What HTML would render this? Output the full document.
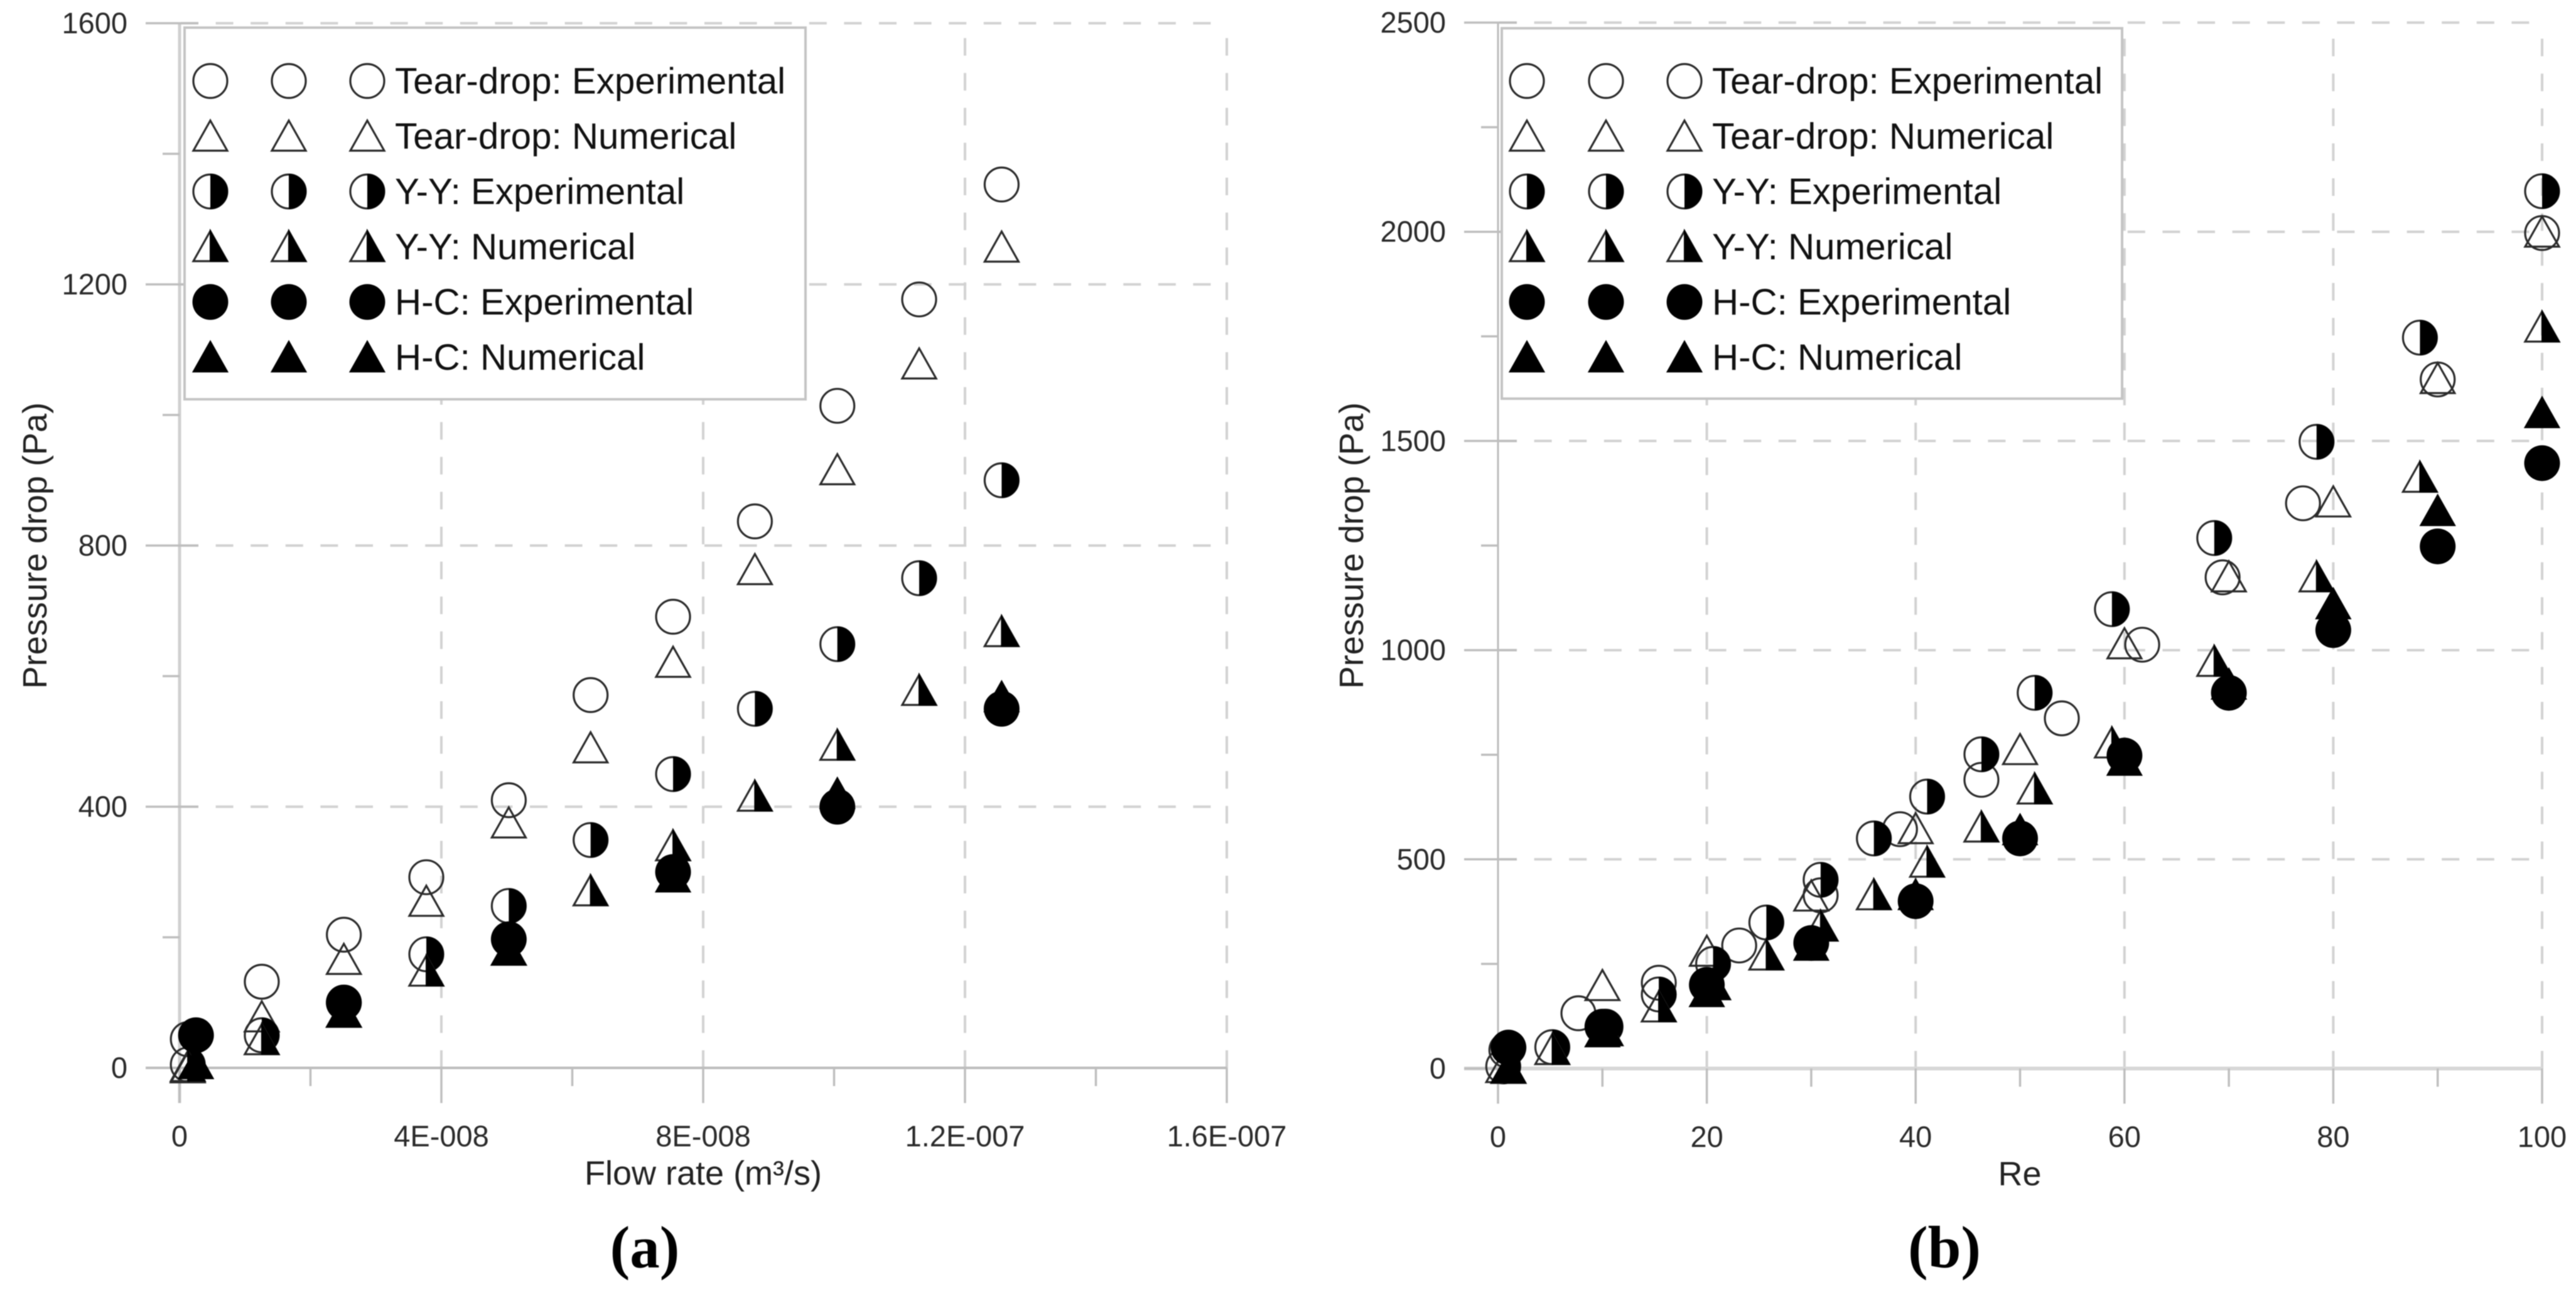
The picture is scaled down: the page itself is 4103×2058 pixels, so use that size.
<!DOCTYPE html>
<html lang="en">
<head>
<meta charset="utf-8">
<title>Pressure drop charts</title>
<style>
html,body{margin:0;padding:0;background:#fff;width:4103px;height:2058px;overflow:hidden}
svg{display:block;filter:blur(0.8px)}
text{font-family:"Liberation Sans",Arial,sans-serif}
.tick{font-size:47px;fill:#2a2a2a}
.title{font-size:54px;fill:#222}
.legend-text{font-size:58.3px;fill:#111}
.panel{font-family:"Liberation Serif","Times New Roman",serif;font-size:95px;font-weight:bold;fill:#000}
</style>
</head>
<body>
<svg id="chart" xmlns="http://www.w3.org/2000/svg" width="4103" height="2058" viewBox="0 0 4103 2058">
  <rect x="0" y="0" width="4103" height="2058" fill="#fff"/>
  <g id="panel-a"></g>
  <g id="panel-b"></g>
</svg>
<script>
// ----- Legend -----
const legendLabels = ["Tear-drop: Experimental","Tear-drop: Numerical","Y-Y: Experimental","Y-Y: Numerical","H-C: Experimental","H-C: Numerical"];
const legendKinds = ["open-circle","open-triangle","half-circle","half-triangle","solid-circle","solid-triangle"];

// ----- Chart (a): flow rate vs pressure drop -----
const aXTicks = [0,4e-8,8e-8,1.2e-7,1.6e-7];
const aXTickLabels = ["0","4E-008","8E-008","1.2E-007","1.6E-007"];
const aXMinor = [2e-8,6e-8,1e-7,1.4e-7];
const aYTicks = [0,400,800,1200,1600];
const aYTickLabels = ["0","400","800","1200","1600"];
const aYMinor = [200,600,1000,1400];

const aTearExpX = [0.126e-8,1.256e-8,2.51e-8,3.77e-8,5.03e-8,6.28e-8,7.54e-8,8.79e-8,10.05e-8,11.3e-8,12.56e-8];
const aTearExpY = [44,132,204,292,410,571,691,837,1014,1177,1353];
const aTearNumX = [0.126e-8,1.256e-8,2.51e-8,3.77e-8,5.03e-8,6.28e-8,7.54e-8,8.79e-8,10.05e-8,11.3e-8,12.56e-8];
const aTearNumY = [0,78,166,255,375,490,621,763,916,1078,1257];
const aYYExpX = [0.126e-8,1.256e-8,2.51e-8,3.77e-8,5.03e-8,6.28e-8,7.54e-8,8.79e-8,10.05e-8,11.3e-8,12.56e-8];
const aYYExpY = [5,50,100,174,248,349,450,550,649,750,900];
const aYYNumX = [0.126e-8,1.256e-8,2.51e-8,3.77e-8,5.03e-8,6.28e-8,7.54e-8,8.79e-8,10.05e-8,11.3e-8,12.56e-8];
const aYYNumY = [2,43,85,148,180,271,340,416,494,578,668];
const aHCExpX = [0.251e-8,2.51e-8,5.03e-8,7.54e-8,10.05e-8,12.56e-8];
const aHCExpY = [50,100,197,300,400,550];
const aHCNumX = [0.251e-8,2.51e-8,5.03e-8,7.54e-8,10.05e-8,12.56e-8];
const aHCNumY = [6,85,180,292,420,568];

// ----- Chart (b): Reynolds number vs pressure drop -----
const bXTicks = [0,20,40,60,80,100];
const bXTickLabels = ["0","20","40","60","80","100"];
const bXMinor = [10,30,50,70,90];
const bYTicks = [0,500,1000,1500,2000,2500];
const bYTickLabels = ["0","500","1000","1500","2000","2500"];
const bYMinor = [250,750,1250,1750,2250];

const bTearExpX = [0.8,7.7,15.4,23.1,30.9,38.5,46.3,54,61.7,69.4,77.1,90,100];
const bTearExpY = [44,132,205,294,414,572,690,837,1013,1174,1351,1647,1997];
const bTearNumX = [1,10,20,30,40,50,60,70,80,90,100];
const bTearNumY = [0,198,280,412,573,762,1015,1175,1354,1649,1999];
const bYYExpX = [0.5,5.2,10.3,15.4,20.6,25.7,30.9,36,41.1,46.3,51.4,58.8,68.6,78.4,88.3,100];
const bYYExpY = [5,51,100,177,250,349,451,550,650,751,898,1098,1268,1498,1747,2097];
const bYYNumX = [0.5,5.2,10.3,15.4,20.6,25.7,30.9,36,41.1,46.3,51.4,58.8,68.6,78.4,88.3,100];
const bYYNumY = [2,45,90,147,200,271,340,415,493,577,668,778,973,1175,1413,1772];
const bHCExpX = [1,10,20,30,40,50,60,70,80,90,100];
const bHCExpY = [50,100,200,300,400,550,748,898,1048,1248,1447];
const bHCNumX = [1,10,20,30,40,50,60,70,80,90,100];
const bHCNumY = [1,87,183,294,415,570,736,918,1110,1333,1567];

const SVGNS = "http://www.w3.org/2000/svg";
const INK = "#2b2b2b";
const BLACK = "#000";
const GRID = "#d2d2d2";

function make(parent, tag, attrs, text) {
  const node = document.createElementNS(SVGNS, tag);
  for (const k in attrs) node.setAttribute(k, attrs[k]);
  if (text !== undefined) node.textContent = text;
  parent.appendChild(node);
  return node;
}

function drawMarker(parent, kind, cx, cy) {
  const r = 27;
  const g = make(parent, "g", {});
  
  
  if (kind === "open-circle" || kind === "half-circle") {
    make(g, "circle", {cx: cx, cy: cy, r: r, fill: "none", stroke: INK, "stroke-width": 3.2});
    if (kind === "half-circle") {
      make(g, "path", {d: `M${cx} ${cy-r-1}A${r+1} ${r+1} 0 0 1 ${cx} ${cy+r+1}Z`, fill: BLACK});
    }
  } else if (kind === "solid-circle") {
    make(g, "circle", {cx: cx, cy: cy, r: r + 1.5, fill: BLACK});
  } else {
    const top = cy - 25, bot = cy + 23, hw = 27;
    if (kind === "solid-triangle") {
      make(g, "polygon", {points: `${cx},${top} ${cx+hw},${bot} ${cx-hw},${bot}`, fill: BLACK, stroke: BLACK, "stroke-width": 2.5});
    } else {
      make(g, "polygon", {points: `${cx},${top} ${cx+hw},${bot} ${cx-hw},${bot}`, fill: "none", stroke: INK, "stroke-width": 3.2});
      if (kind === "half-triangle") {
        make(g, "polygon", {points: `${cx},${top} ${cx+hw},${bot} ${cx},${bot}`, fill: BLACK, stroke: BLACK, "stroke-width": 2});
      }
    }
  }
}

function drawPanel(cfg) {
  const root = document.getElementById(cfg.id);
  const sx = v => cfg.x0 + (v - cfg.xMin) / (cfg.xMax - cfg.xMin) * (cfg.x1 - cfg.x0);
  const sy = v => cfg.y0 - (v - cfg.yMin) / (cfg.yMax - cfg.yMin) * (cfg.y0 - cfg.y1);

  // grid
  const grid = make(root, "g", {fill: "none", stroke: GRID, "stroke-width": 4, "stroke-dasharray": "28 27.6"});
  
  
  cfg.yTicks.forEach(v => {
    if (v !== cfg.yMin) {
      const line = make(grid, "line", {x1: cfg.x0 + 2, x2: cfg.x1, y1: sy(v), y2: sy(v)});
      
      
    }
  });
  cfg.xTicks.forEach(v => {
    if (v !== cfg.xMin) {
      const line = make(grid, "line", {x1: sx(v), x2: sx(v), y1: cfg.y0, y2: cfg.y1});
      
      
    }
  });

  // axes and ticks
  const axes = make(root, "g", {stroke: "#bebebe", "stroke-width": 3.5, fill: "none"});
  
  
  make(axes, "line", {x1: cfg.x0, x2: cfg.x0, y1: cfg.y1, y2: cfg.y0 + 56, stroke: cfg.yAxisColor, "stroke-width": cfg.yAxisWidth});
  make(axes, "line", {x1: cfg.x0 - 54, x2: cfg.x1, y1: cfg.y0, y2: cfg.y0, stroke: cfg.xAxisColor, "stroke-width": cfg.xAxisWidth});
  cfg.yTicks.forEach(v => make(axes, "line", {x1: cfg.x0 - 54, x2: cfg.x0 + 30, y1: sy(v), y2: sy(v)}));
  cfg.yMinor.forEach(v => make(axes, "line", {x1: cfg.x0 - 27, x2: cfg.x0, y1: sy(v), y2: sy(v)}));
  cfg.xTicks.forEach(v => make(axes, "line", {x1: sx(v), x2: sx(v), y1: cfg.y0, y2: cfg.y0 + 56}));
  cfg.xMinor.forEach(v => make(axes, "line", {x1: sx(v), x2: sx(v), y1: cfg.y0, y2: cfg.y0 + 29}));

  // tick labels
  cfg.yTicks.forEach((v, i) => {
    const t = make(root, "text", {class: "tick", x: cfg.x0 - 83, y: sy(v) + 16, "text-anchor": "end"}, cfg.yTickLabels[i]);
    
    
  });
  cfg.xTicks.forEach((v, i) => {
    const t = make(root, "text", {class: "tick", x: sx(v), y: cfg.y0 + 125, "text-anchor": "middle"}, cfg.xTickLabels[i]);
    
    
  });

  // axis titles
  const xTitle = make(root, "text", {class: "title", x: cfg.xTitleX, y: cfg.y0 + 186, "text-anchor": "middle"}, cfg.xTitle);
  
  
  const yTitle = make(root, "text", {class: "title", transform: `translate(${cfg.yTitleX},${cfg.yTitleY}) rotate(-90)`, "text-anchor": "middle"}, "Pressure drop (Pa)");
  
  

  // data series
  cfg.series.forEach(s => {
    const g = make(root, "g", {});
    
    
    s.xs.forEach((xv, i) => drawMarker(g, s.kind, sx(xv), sy(s.ys[i])));
  });

  // legend
  const lg = make(root, "g", {});
  
  
  make(lg, "rect", {x: cfg.legend.x, y: cfg.legend.y, width: cfg.legend.w, height: cfg.legend.h, fill: "#fff", stroke: "#c4c4c4", "stroke-width": 4});
  legendLabels.forEach((label, i) => {
    const row = make(lg, "g", {});
    
    
    const cy = 129 + i * 88;
    cfg.legend.cols.forEach(cx => drawMarker(row, legendKinds[i], cx, cy));
    make(row, "text", {class: "legend-text", x: cfg.legend.textX, y: cy + 20}, label);
  });

  // panel label
  const p = make(root, "text", {class: "panel", x: cfg.panelX, y: 2019, "text-anchor": "middle"}, cfg.panel);
  
  
}

drawPanel({
  id: "panel-a", x0: 286, x1: 1954, y0: 1701, y1: 37,
  xMin: 0, xMax: 1.6e-7, yMin: 0, yMax: 1600,
  xAxisColor: "#bcbcbc", xAxisWidth: 4, yAxisColor: "#d0d0d0", yAxisWidth: 5,
  xTicks: aXTicks, xTickLabels: aXTickLabels, xMinor: aXMinor,
  yTicks: aYTicks, yTickLabels: aYTickLabels, yMinor: aYMinor,
  xTitle: "Flow rate (m³/s)", xTitleX: 1120, yTitleX: 74, yTitleY: 869,
  legend: {x: 294, y: 44, w: 989, h: 592, cols: [335, 460, 585], textX: 629},
  panel: "(a)", panelX: 1027,
  series: [
    {name: "tear-drop-experimental", kind: "open-circle", xs: aTearExpX, ys: aTearExpY},
    {name: "tear-drop-numerical", kind: "open-triangle", xs: aTearNumX, ys: aTearNumY},
    {name: "y-y-experimental", kind: "half-circle", xs: aYYExpX, ys: aYYExpY},
    {name: "y-y-numerical", kind: "half-triangle", xs: aYYNumX, ys: aYYNumY},
    {name: "h-c-experimental", kind: "solid-circle", xs: aHCExpX, ys: aHCExpY},
    {name: "h-c-numerical", kind: "solid-triangle", xs: aHCNumX, ys: aHCNumY}
  ]
});

drawPanel({
  id: "panel-b", x0: 2386, x1: 4049, y0: 1702, y1: 36,
  xMin: 0, xMax: 100, yMin: 0, yMax: 2500,
  xAxisColor: "#d8d8d8", xAxisWidth: 6, yAxisColor: "#bbbbbb", yAxisWidth: 3,
  xTicks: bXTicks, xTickLabels: bXTickLabels, xMinor: bXMinor,
  yTicks: bYTicks, yTickLabels: bYTickLabels, yMinor: bYMinor,
  xTitle: "Re", xTitleX: 3217, yTitleX: 2171, yTitleY: 869,
  legend: {x: 2392, y: 45, w: 988, h: 590, cols: [2432, 2558, 2683], textX: 2727},
  panel: "(b)", panelX: 3097,
  series: [
    {name: "tear-drop-experimental", kind: "open-circle", xs: bTearExpX, ys: bTearExpY},
    {name: "tear-drop-numerical", kind: "open-triangle", xs: bTearNumX, ys: bTearNumY},
    {name: "y-y-experimental", kind: "half-circle", xs: bYYExpX, ys: bYYExpY},
    {name: "y-y-numerical", kind: "half-triangle", xs: bYYNumX, ys: bYYNumY},
    {name: "h-c-experimental", kind: "solid-circle", xs: bHCExpX, ys: bHCExpY},
    {name: "h-c-numerical", kind: "solid-triangle", xs: bHCNumX, ys: bHCNumY}
  ]
});
</script>
</body>
</html>
